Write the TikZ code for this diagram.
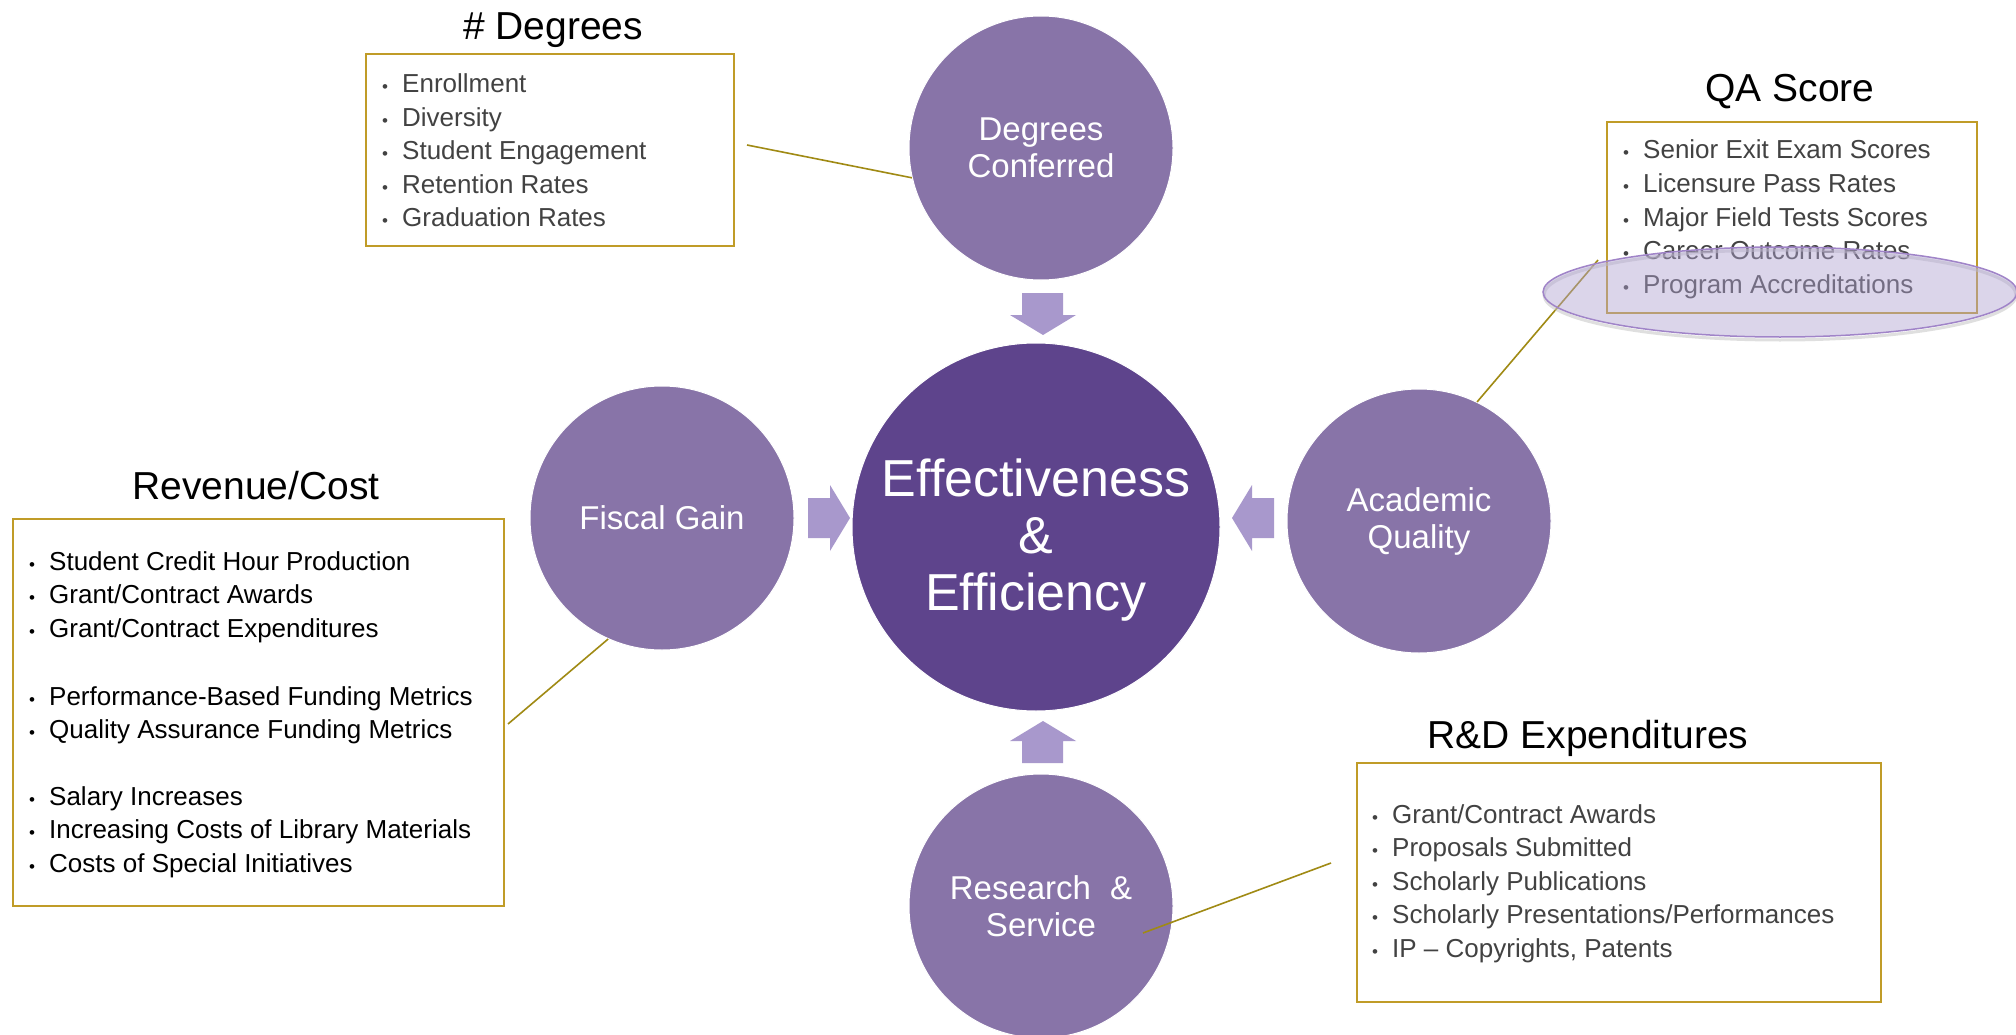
\documentclass[tikz,border=0pt]{standalone}
\usepackage{fontspec}
\setmainfont{Liberation Sans}
\definecolor{circ}{RGB}{136,116,168}
\definecolor{core}{RGB}{94,68,140}
\definecolor{arr}{RGB}{168,152,204}
\definecolor{gold}{RGB}{192,156,40}
\definecolor{olive}{RGB}{160,138,20}
\definecolor{txtgray}{RGB}{66,66,66}
\definecolor{ellfill}{RGB}{176,162,210}
\definecolor{elldraw}{RGB}{160,132,200}
\newcommand\bulitem{\llap{\makebox[0pt][c]{\fontsize{17}{17}\selectfont •}\hspace{17pt}}}
\begin{document}
\begin{tikzpicture}[x=1pt,y=-1pt,
  bubble/.style={circle, fill=circ, draw=white, line width=1pt, text=white,
    align=center, inner sep=0pt, minimum size=264pt,
    font=\fontsize{33}{37}\selectfont},
  corebubble/.style={circle, fill=core, draw=white, line width=1pt,
    inner sep=0pt, minimum size=368pt},
  coretext/.style={text=white, align=center, inner sep=0pt,
    font=\fontsize{52}{57}\selectfont},
  infobox/.style={draw=gold, line width=2pt, fill=white, inner sep=0pt, anchor=north west},
  title/.style={anchor=base, inner sep=0pt, font=\fontsize{39}{43}\selectfont},
  item/.style={anchor=base west, inner sep=0pt, font=\fontsize{26}{30}\selectfont},
  link/.style={draw=olive, line width=1.6pt},
  blockarrow/.style={fill=arr, draw=none}]
\useasboundingbox (0,0) rectangle (2016,1035);
\fill[white] (0,0) rectangle (2016,1035);

% info boxes
\node[infobox, minimum width=368pt, minimum height=192pt] (degbox) at (365,53) {};
\node[infobox, minimum width=370pt, minimum height=191pt] (qabox) at (1606,121) {};
\node[infobox, minimum width=491pt, minimum height=387pt] (revbox) at (12,518) {};
\node[infobox, minimum width=524pt, minimum height=239pt] (rdbox) at (1356,762) {};

% titles
\node[title] (degtitle) at (553,40) {\# Degrees};
\node[title] (qatitle) at (1790,102) {QA Score};
\node[title] (revtitle) at (256,499) {Revenue/Cost};
\node[title] (rdtitle) at (1588,748) {R\&D Expenditures};

% lists
\foreach \t [count=\i from 0] in {Enrollment, Diversity, Student Engagement, Retention Rates, Graduation Rates}
  \node[item, text=txtgray] (deg\i) at (402,93+33.5*\i) {\bulitem\t};
\foreach \t [count=\i from 0] in {Senior Exit Exam Scores, Licensure Pass Rates, Major Field Tests Scores, Career Outcome Rates, Program Accreditations}
  \node[item, text=txtgray] (qa\i) at (1643,159+33.5*\i) {\bulitem\t};
\foreach \t [count=\i from 0] in {Student Credit Hour Production, Grant/Contract Awards, Grant/Contract Expenditures}
  \node[item, text=black] (reva\i) at (49,570+33.5*\i) {\bulitem\t};
\foreach \t [count=\i from 0] in {Performance-Based Funding Metrics, Quality Assurance Funding Metrics}
  \node[item, text=black] (revb\i) at (49,705+33.5*\i) {\bulitem\t};
\foreach \t [count=\i from 0] in {Salary Increases, Increasing Costs of Library Materials, Costs of Special Initiatives}
  \node[item, text=black] (revc\i) at (49,805+33.5*\i) {\bulitem\t};
\foreach \t [count=\i from 0] in {Grant/Contract Awards, Proposals Submitted, Scholarly Publications, Scholarly Presentations/Performances, {IP – Copyrights, Patents}}
  \node[item, text=txtgray] (rd\i) at (1392,823+33.5*\i) {\bulitem\t};

% circles
\node[corebubble] (core) at (1036,527) {};
\node[coretext] (coretxt) at (1036,540) {Effectiveness\\\&\\Efficiency};
\node[bubble] (dc) at (1041,148) {Degrees\\Conferred};
\node[bubble] (fg) at (662,518) {Fiscal Gain};
\node[bubble] (aq) at (1419,521) {Academic\\Quality};
\node[bubble] (rs) at (1041,906) {Research\hspace{0.3em} \&\\Service};

% block arrows
\fill[blockarrow] (1022,293) -- (1063,293) -- (1063,315) -- (1076,315) -- (1043,335) -- (1010,315) -- (1022,315) -- cycle;
\fill[blockarrow] (1022,763) -- (1063,763) -- (1063,741) -- (1076,741) -- (1043,721) -- (1010,741) -- (1022,741) -- cycle;
\fill[blockarrow] (808,498) -- (830,498) -- (830,485) -- (850,518) -- (830,551) -- (830,538) -- (808,538) -- cycle;
\fill[blockarrow] (1274,498) -- (1252,498) -- (1252,485) -- (1232,518) -- (1252,551) -- (1252,538) -- (1274,538) -- cycle;

% connectors
\coordinate (degend) at (747,145);
\coordinate (revend) at (508,724);
\coordinate (qaend) at (1598,260);
\coordinate (rdend) at (1331,863);
\coordinate (rsin) at (1143,933);
\draw[link] (dc.193) -- (degend);
\draw[link] (fg.246) -- (revend);
\draw[link] (aq.64) -- (qaend);
\draw[link] (rsin) -- (rdend);

% highlight ellipse
\draw[gray!45, line width=3pt, opacity=0.55] (1780,295) ellipse [x radius=236, y radius=45];
\draw[draw=elldraw, line width=1.5pt, fill=ellfill, fill opacity=0.45] (1780,292) ellipse [x radius=237, y radius=45];
\end{tikzpicture}
\end{document}
